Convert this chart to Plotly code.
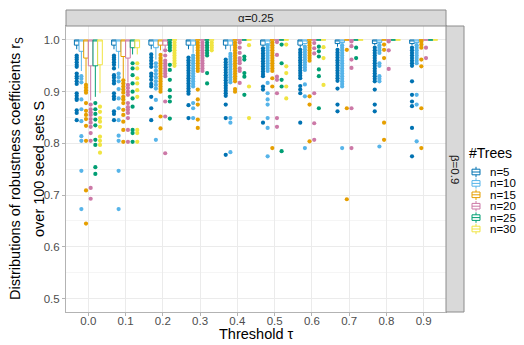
import plotly.graph_objects as go

# ---------------- data ----------------
taus = ["0.0", "0.1", "0.2", "0.3", "0.4", "0.5", "0.6", "0.7", "0.8", "0.9"]
trees = ["n=5", "n=10", "n=15", "n=20", "n=25", "n=30"]
colors = ["#0072B2", "#56B4E9", "#E69F00", "#CC79A7", "#009E73", "#F0E442"]

# box statistics per series (rows: n=5..n=30, cols: tau 0.0..0.9)
q1_vals = [
    [0.990, 0.990, 0.990, 0.990, 0.990, 0.990, 0.990, 0.993, 0.993, 0.993],
    [0.978, 0.978, 0.985, 0.990, 0.990, 0.992, 0.993, 0.995, 0.995, 0.995],
    [0.965, 0.968, 0.990, 1.000, 1.000, 1.000, 1.000, 1.000, 1.000, 1.000],
    [0.950, 0.965, 0.990, 1.000, 1.000, 1.000, 1.000, 1.000, 1.000, 1.000],
    [0.950, 0.985, 1.000, 1.000, 1.000, 1.000, 1.000, 1.000, 1.000, 1.000],
    [0.952, 0.985, 1.000, 1.000, 1.000, 1.000, 1.000, 1.000, 1.000, 1.000],
]
median_vals = [[1.0] * 10 for _ in range(6)]
q3_vals = [[1.0] * 10 for _ in range(6)]
upper_vals = [[1.0] * 10 for _ in range(6)]
lower_vals = [
    [0.982, 0.982, 0.982, 0.982, 0.982, 0.988, 0.985, 0.987, 0.990, 0.990],
    [0.940, 0.945, 0.962, 0.975, 0.978, 0.995, 0.992, 0.995, 0.995, 0.995],
    [0.915, 0.925, 0.980, 1.000, 1.000, 1.000, 1.000, 1.000, 1.000, 1.000],
    [0.883, 0.918, 0.984, 1.000, 1.000, 1.000, 1.000, 1.000, 1.000, 1.000],
    [0.890, 0.972, 1.000, 1.000, 1.000, 1.000, 1.000, 1.000, 1.000, 1.000],
    [0.897, 0.972, 1.000, 1.000, 1.000, 1.000, 1.000, 1.000, 1.000, 1.000],
]

# outliers: one list per tau for each series
out_n5 = [
    [0.970, 0.966, 0.962, 0.957, 0.952, 0.948, 0.935, 0.930, 0.926, 0.920, 0.915, 0.897, 0.892, 0.887, 0.884, 0.864, 0.859, 0.845],
    [0.970, 0.966, 0.962, 0.957, 0.952, 0.945, 0.932, 0.927, 0.921, 0.916, 0.897, 0.891, 0.886, 0.862, 0.857, 0.845],
    [0.972, 0.966, 0.960, 0.954, 0.948, 0.935, 0.930, 0.923, 0.915, 0.910, 0.890, 0.868, 0.845],
    [0.966, 0.961, 0.956, 0.951, 0.946, 0.941, 0.936, 0.931, 0.926, 0.921, 0.916, 0.911, 0.906, 0.901, 0.896, 0.874, 0.849],
    [0.962, 0.957, 0.952, 0.947, 0.942, 0.937, 0.932, 0.927, 0.922, 0.917, 0.912, 0.907, 0.902, 0.897, 0.892, 0.875, 0.849, 0.778],
    [0.984, 0.979, 0.974, 0.969, 0.964, 0.959, 0.954, 0.949, 0.944, 0.939, 0.934, 0.930, 0.910, 0.904, 0.840],
    [0.981, 0.976, 0.971, 0.966, 0.961, 0.956, 0.951, 0.946, 0.941, 0.936, 0.931, 0.926, 0.911, 0.904, 0.897, 0.840],
    [0.981, 0.976, 0.971, 0.966, 0.961, 0.956, 0.951, 0.946, 0.941, 0.936, 0.931, 0.926, 0.921, 0.906, 0.875, 0.862],
    [0.985, 0.980, 0.975, 0.970, 0.965, 0.960, 0.955, 0.950, 0.945, 0.940, 0.935, 0.930, 0.925, 0.920, 0.904, 0.875, 0.862],
    [0.985, 0.980, 0.975, 0.970, 0.965, 0.960, 0.955, 0.950, 0.920, 0.894, 0.881, 0.872, 0.830, 0.775],
]
out_n10 = [
    [0.930, 0.925, 0.918, 0.885, 0.866, 0.843, 0.814, 0.805, 0.747, 0.673],
    [0.935, 0.928, 0.920, 0.905, 0.887, 0.868, 0.845, 0.815, 0.805, 0.747, 0.673],
    [0.955, 0.948, 0.941, 0.934, 0.927, 0.920, 0.913, 0.906, 0.884, 0.807],
    [0.970, 0.965, 0.960, 0.955, 0.950, 0.945, 0.940, 0.935, 0.930, 0.925, 0.920, 0.915, 0.910, 0.878, 0.868, 0.849],
    [0.973, 0.968, 0.963, 0.958, 0.953, 0.948, 0.943, 0.938, 0.933, 0.928, 0.923, 0.918, 0.849, 0.840, 0.783],
    [0.990, 0.985, 0.980, 0.975, 0.970, 0.965, 0.960, 0.955, 0.950, 0.945, 0.940, 0.917, 0.897, 0.885, 0.875, 0.849, 0.830, 0.775],
    [0.987, 0.982, 0.977, 0.972, 0.967, 0.962, 0.957, 0.952, 0.947, 0.942, 0.914, 0.891, 0.791],
    [0.990, 0.985, 0.980, 0.975, 0.970, 0.965, 0.960, 0.955, 0.950, 0.945, 0.940, 0.935, 0.930, 0.925, 0.920, 0.915, 0.910, 0.791],
    [0.990, 0.985, 0.980, 0.975, 0.955, 0.950, 0.930, 0.925, 0.920, 0.794],
    [0.990, 0.985, 0.980, 0.975, 0.970, 0.965, 0.960, 0.955, 0.894, 0.875, 0.804],
]
out_n15 = [
    [0.913, 0.908, 0.903, 0.898, 0.878, 0.863, 0.855, 0.847, 0.834, 0.805, 0.709, 0.645],
    [0.922, 0.916, 0.910, 0.904, 0.898, 0.890, 0.885, 0.878, 0.865, 0.855, 0.842, 0.826, 0.803],
    [0.971, 0.965, 0.960, 0.955, 0.950, 0.945, 0.940, 0.935, 0.930, 0.925, 0.920, 0.915, 0.910, 0.905, 0.900, 0.852, 0.829],
    [0.995, 0.990, 0.985, 0.980, 0.975, 0.970, 0.965, 0.960, 0.955, 0.950, 0.945, 0.940, 0.904, 0.885, 0.875, 0.846, 0.830],
    [0.995, 0.990, 0.985, 0.980, 0.975, 0.970, 0.965, 0.960, 0.955, 0.950, 0.945, 0.940, 0.935, 0.930, 0.925, 0.920, 0.905, 0.900],
    [0.995, 0.990, 0.985, 0.980, 0.975, 0.970, 0.965, 0.960, 0.955, 0.950, 0.945, 0.940, 0.926, 0.910, 0.791],
    [0.995, 0.990, 0.985, 0.980, 0.975, 0.970, 0.965, 0.960, 0.891, 0.875, 0.804],
    [0.981, 0.868, 0.692],
    [0.991, 0.981, 0.965, 0.840, 0.807],
    [0.997, 0.991, 0.985, 0.962, 0.949, 0.868, 0.791],
]
out_n20 = [
    [0.875, 0.866, 0.860, 0.855, 0.847, 0.840, 0.832, 0.820, 0.805, 0.714, 0.693],
    [0.913, 0.907, 0.900, 0.894, 0.878, 0.870, 0.865, 0.859, 0.849, 0.826, 0.803],
    [0.980, 0.970, 0.960, 0.955, 0.950, 0.945, 0.940, 0.935, 0.930, 0.881, 0.852, 0.781],
    [0.995, 0.990, 0.985, 0.980, 0.975, 0.970, 0.965, 0.960, 0.955, 0.950, 0.945, 0.940],
    [0.995, 0.985, 0.975, 0.965, 0.960, 0.955, 0.945, 0.940, 0.917],
    [0.996, 0.971, 0.929, 0.923, 0.897, 0.849, 0.832],
    [0.994, 0.984, 0.974, 0.897, 0.839, 0.807],
    [0.997, 0.988, 0.962, 0.946, 0.868, 0.791],
    [0.997, 0.980, 0.944],
    [0.985, 0.965],
]
out_n25 = [
    [0.878, 0.866, 0.857, 0.846, 0.835, 0.807, 0.797, 0.754, 0.741],
    [0.955, 0.945, 0.932, 0.916, 0.900, 0.887, 0.871, 0.826, 0.820, 0.803],
    [0.995, 0.990, 0.985, 0.980, 0.952, 0.942, 0.923, 0.903, 0.890, 0.881, 0.848],
    [0.995, 0.990, 0.985, 0.980, 0.975, 0.970, 0.936, 0.916],
    [0.968, 0.962, 0.936, 0.929, 0.894],
    [0.991, 0.955, 0.923, 0.910, 0.785],
    [0.987, 0.978, 0.968, 0.943, 0.930, 0.868],
    [0.985, 0.965],
    [],
    [],
]
out_n30 = [
    [0.871, 0.861, 0.849, 0.842, 0.832, 0.813, 0.805, 0.797, 0.782],
    [0.955, 0.945, 0.926, 0.916, 0.903, 0.890, 0.826, 0.820, 0.803],
    [0.995, 0.990, 0.985, 0.980, 0.975, 0.970, 0.965, 0.960, 0.955, 0.950],
    [0.995, 0.990, 0.985, 0.980],
    [0.990, 0.910, 0.849],
    [0.991, 0.949, 0.936, 0.910, 0.887],
    [0.986, 0.965, 0.913],
    [],
    [],
    [],
]
outliers = [out_n5, out_n10, out_n15, out_n20, out_n25, out_n30]

# ---------------- figure ----------------
W_FIG, H_FIG = 524, 345
L, T, R, B = 66, 26, 446, 312
PW, PH = R - L, B - T


def xp(px):
    return (px - L) / PW


def yp(py):
    return 1 - (py - T) / PH


FONT = "Liberation Sans, Arial, Helvetica, sans-serif"
n_series = len(trees)
bw = 0.75 / n_series

fig = go.Figure()
for s in range(n_series):
    xs = [c + (s - (n_series - 1) / 2) * bw for c in range(len(taus))]
    fig.add_trace(go.Box(
        x=xs, q1=q1_vals[s], median=median_vals[s], q3=q3_vals[s],
        lowerfence=lower_vals[s], upperfence=upper_vals[s],
        width=bw, whiskerwidth=0, boxpoints=False,
        line=dict(color=colors[s], width=1), fillcolor="white",
        name=trees[s], showlegend=False, hoverinfo="skip",
    ))
    px_, py_ = [], []
    for c, vals in enumerate(outliers[s]):
        for v in vals:
            px_.append(xs[c])
            py_.append(v)
    fig.add_trace(go.Scatter(
        x=px_, y=py_, mode="markers",
        marker=dict(color=colors[s], size=4.2, line=dict(width=0)),
        showlegend=False, hoverinfo="skip",
    ))

fig.update_layout(
    width=W_FIG, height=H_FIG,
    margin=dict(l=L, r=W_FIG - R, t=T, b=H_FIG - B),
    plot_bgcolor="white", paper_bgcolor="white",
    showlegend=False, boxmode="overlay",
    font=dict(family=FONT),
)
fig.update_xaxes(
    range=[-0.6, 9.6], tickmode="array", tickvals=list(range(len(taus))), ticktext=taus,
    showgrid=True, gridcolor="#EBEBEB", gridwidth=1, zeroline=False,
    ticks="outside", ticklen=3, tickcolor="#B3B3B3", tickwidth=1,
    ticklabelstandoff=-5,
    tickfont=dict(size=11.5, color="#4D4D4D", family=FONT),
    showline=True, linecolor="#B3B3B3", linewidth=1, mirror=True,
)
fig.update_yaxes(
    range=[0.474, 1.027], tickmode="linear", tick0=0.5, dtick=0.1, tickformat=".1f",
    showgrid=True, gridcolor="#EBEBEB", gridwidth=1, zeroline=False,
    minor=dict(tick0=0.5, dtick=0.05, showgrid=True, gridcolor="#F5F5F5", gridwidth=0.7, ticks=""),
    ticks="outside", ticklen=3, tickcolor="#B3B3B3", tickwidth=1,
    tickfont=dict(size=11.5, color="#4D4D4D", family=FONT),
    showline=True, linecolor="#B3B3B3", linewidth=1, mirror=True,
)

shapes = []
annotations = []
# top strip
shapes.append(dict(type="rect", xref="paper", yref="paper", x0=0, x1=1, y0=1, y1=yp(10),
                   fillcolor="#D9D9D9", line=dict(color="#8C8C8C", width=1), layer="above"))
annotations.append(dict(text="α=0.25", xref="paper", yref="paper", x=0.5, y=yp(18.5),
                        showarrow=False, xanchor="center", yanchor="middle",
                        font=dict(size=11.5, color="#1A1A1A", family=FONT)))
# right strip
shapes.append(dict(type="rect", xref="paper", yref="paper", x0=1, x1=xp(464), y0=0, y1=1,
                   fillcolor="#D9D9D9", line=dict(color="#8C8C8C", width=1), layer="above"))
annotations.append(dict(text="β=0.9", xref="paper", yref="paper", x=xp(455), y=0.5,
                        showarrow=False, xanchor="center", yanchor="middle", textangle=90,
                        font=dict(size=11.5, color="#1A1A1A", family=FONT)))
# axis titles
annotations.append(dict(text="Threshold τ", xref="paper", yref="paper", x=0.5, y=yp(334),
                        showarrow=False, xanchor="center", yanchor="middle",
                        font=dict(size=14.5, color="#000000", family=FONT)))
annotations.append(dict(text="Distributions of robustness coefficients r<sub>S</sub>",
                        xref="paper", yref="paper", x=xp(16), y=yp(169),
                        showarrow=False, xanchor="center", yanchor="middle", textangle=-90,
                        font=dict(size=14.5, color="#000000", family=FONT)))
annotations.append(dict(text="over 100 seed sets S",
                        xref="paper", yref="paper", x=xp(39), y=yp(169),
                        showarrow=False, xanchor="center", yanchor="middle", textangle=-90,
                        font=dict(size=14.5, color="#000000", family=FONT)))
# legend
annotations.append(dict(text="#Trees", xref="paper", yref="paper", x=xp(467), y=yp(153),
                        showarrow=False, xanchor="left", yanchor="middle",
                        font=dict(size=14, color="#000000", family=FONT)))
for s in range(n_series):
    cy = 172 + s * 11.4
    x0, x1 = 472, 480
    xm = (x0 + x1) / 2
    lc = dict(color=colors[s], width=1)
    shapes.append(dict(type="rect", xref="paper", yref="paper", x0=xp(x0), x1=xp(x1),
                       y0=yp(cy + 2.8), y1=yp(cy - 2.8), line=lc, fillcolor="white"))
    shapes.append(dict(type="line", xref="paper", yref="paper", x0=xp(x0), x1=xp(x1),
                       y0=yp(cy), y1=yp(cy), line=lc))
    shapes.append(dict(type="line", xref="paper", yref="paper", x0=xp(xm), x1=xp(xm),
                       y0=yp(cy - 2.8), y1=yp(cy - 5.2), line=lc))
    shapes.append(dict(type="line", xref="paper", yref="paper", x0=xp(xm), x1=xp(xm),
                       y0=yp(cy + 2.8), y1=yp(cy + 5.2), line=lc))
    annotations.append(dict(text=trees[s], xref="paper", yref="paper", x=xp(488), y=yp(cy),
                            showarrow=False, xanchor="left", yanchor="middle",
                            font=dict(size=11.5, color="#000000", family=FONT)))

fig.update_layout(shapes=shapes, annotations=annotations)
fig.write_html("out.html")
